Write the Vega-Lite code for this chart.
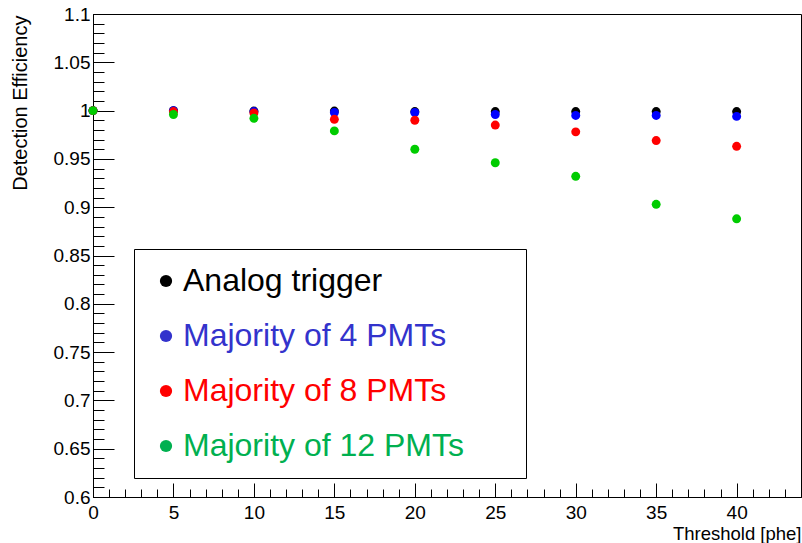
{
  "$schema": "https://vega.github.io/schema/vega-lite/v6.json",
  "autosize": "none",
  "width": 708,
  "height": 483,
  "padding": {"left": 93, "top": 14, "right": 1, "bottom": 46},
  "background": "white",
  "config": {
    "view": {"stroke": "black", "strokeWidth": 1},
    "font": "Liberation Sans",
    "axis": {"grid": false, "domainColor": "black", "tickColor": "black", "labelColor": "black", "titleColor": "black", "labelFont": "Liberation Sans", "titleFont": "Liberation Sans", "titleFontWeight": "normal", "labelOverlap": false, "labelFlush": false}
  },
  "data": {"values": [
    {"t": 0, "eff": 1.0, "s": "Analog trigger"},
    {"t": 5, "eff": 1.0, "s": "Analog trigger"},
    {"t": 10, "eff": 0.9995, "s": "Analog trigger"},
    {"t": 15, "eff": 0.9995, "s": "Analog trigger"},
    {"t": 20, "eff": 0.999, "s": "Analog trigger"},
    {"t": 25, "eff": 0.999, "s": "Analog trigger"},
    {"t": 30, "eff": 0.999, "s": "Analog trigger"},
    {"t": 35, "eff": 0.999, "s": "Analog trigger"},
    {"t": 40, "eff": 0.999, "s": "Analog trigger"},
    {"t": 0, "eff": 1.0, "s": "Majority of 4 PMTs"},
    {"t": 5, "eff": 1.0, "s": "Majority of 4 PMTs"},
    {"t": 10, "eff": 0.999, "s": "Majority of 4 PMTs"},
    {"t": 15, "eff": 0.998, "s": "Majority of 4 PMTs"},
    {"t": 20, "eff": 0.998, "s": "Majority of 4 PMTs"},
    {"t": 25, "eff": 0.996, "s": "Majority of 4 PMTs"},
    {"t": 30, "eff": 0.995, "s": "Majority of 4 PMTs"},
    {"t": 35, "eff": 0.995, "s": "Majority of 4 PMTs"},
    {"t": 40, "eff": 0.994, "s": "Majority of 4 PMTs"},
    {"t": 0, "eff": 1.0, "s": "Majority of 8 PMTs"},
    {"t": 5, "eff": 0.999, "s": "Majority of 8 PMTs"},
    {"t": 10, "eff": 0.9975, "s": "Majority of 8 PMTs"},
    {"t": 15, "eff": 0.991, "s": "Majority of 8 PMTs"},
    {"t": 20, "eff": 0.99, "s": "Majority of 8 PMTs"},
    {"t": 25, "eff": 0.985, "s": "Majority of 8 PMTs"},
    {"t": 30, "eff": 0.978, "s": "Majority of 8 PMTs"},
    {"t": 35, "eff": 0.969, "s": "Majority of 8 PMTs"},
    {"t": 40, "eff": 0.963, "s": "Majority of 8 PMTs"},
    {"t": 0, "eff": 1.0, "s": "Majority of 12 PMTs"},
    {"t": 5, "eff": 0.996, "s": "Majority of 12 PMTs"},
    {"t": 10, "eff": 0.992, "s": "Majority of 12 PMTs"},
    {"t": 15, "eff": 0.979, "s": "Majority of 12 PMTs"},
    {"t": 20, "eff": 0.96, "s": "Majority of 12 PMTs"},
    {"t": 25, "eff": 0.946, "s": "Majority of 12 PMTs"},
    {"t": 30, "eff": 0.932, "s": "Majority of 12 PMTs"},
    {"t": 35, "eff": 0.903, "s": "Majority of 12 PMTs"},
    {"t": 40, "eff": 0.888, "s": "Majority of 12 PMTs"}
  ]},
  "resolve": {"axis": {"x": "independent", "y": "independent"}},
  "layer": [
    {
      "mark": {"type": "circle", "opacity": 0},
      "encoding": {
        "x": {"field": "t", "type": "quantitative", "scale": {"domain": [0, 44], "nice": false, "zero": false},
          "axis": {"orient": "bottom", "values": [0,1,2,3,4,5,6,7,8,9,10,11,12,13,14,15,16,17,18,19,20,21,22,23,24,25,26,27,28,29,30,31,32,33,34,35,36,37,38,39,40,41,42,43,44], "labels": false, "domain": false, "tickSize": -8, "title": null}},
        "y": {"field": "eff", "type": "quantitative", "scale": {"domain": [0.6, 1.1], "nice": false, "zero": false},
          "axis": {"orient": "left", "values": [0.6,0.61,0.62,0.63,0.64,0.65,0.66,0.67,0.68,0.69,0.7,0.71,0.72,0.73,0.74,0.75,0.76,0.77,0.78,0.79,0.8,0.81,0.82,0.83,0.84,0.85,0.86,0.87,0.88,0.89,0.9,0.91,0.92,0.93,0.94,0.95,0.96,0.97,0.98,0.99,1.0,1.01,1.02,1.03,1.04,1.05,1.06,1.07,1.08,1.09,1.1], "labels": false, "domain": false, "tickSize": -11, "title": null}},
        "fill": {"field": "s", "type": "nominal",
          "scale": {"domain": ["Analog trigger", "Majority of 4 PMTs", "Majority of 8 PMTs", "Majority of 12 PMTs"], "range": ["#000000", "#3333cc", "#ff0000", "#00b050"]},
          "legend": {"orient": "none", "legendX": 41, "legendY": 235, "title": null, "padding": 16, "strokeColor": "black", "fillColor": "white", "symbolType": "circle", "symbolSize": 150, "symbolOpacity": 1, "symbolStrokeWidth": 0, "labelFontSize": 32, "labelFont": "Liberation Sans", "labelOffset": 1, "rowPadding": 23, "labelLimit": 700,
            "encode": {
              "labels": {"update": {
                "text": {"signal": "datum.label + '\u2800\u2800'"},
                "fill": {"signal": "datum.value === 'Majority of 4 PMTs' ? '#3333cc' : datum.value === 'Majority of 8 PMTs' ? '#ff0000' : datum.value === 'Majority of 12 PMTs' ? '#00b050' : '#000000'"}}}
            }}}
      }
    },
    {
      "mark": {"type": "circle", "size": 80, "opacity": 1},
      "encoding": {
        "x": {"field": "t", "type": "quantitative",
          "axis": {"orient": "bottom", "values": [0,5,10,15,20,25,30,35,40], "tickSize": -14, "labelPadding": 20, "labelFontSize": 19, "format": "~g", "title": "Threshold [phe]", "titleFontSize": 18.5, "titleX": 708, "titleY": 36, "titleAlign": "right", "titleBaseline": "middle"}},
        "y": {"field": "eff", "type": "quantitative",
          "axis": {"orient": "left", "values": [0.6,0.65,0.7,0.75,0.8,0.85,0.9,0.95,1.0,1.05,1.1], "tickSize": -21, "labelPadding": 24, "labelFontSize": 19, "format": ".2~f", "title": "Detection Efficiency", "titleFontSize": 20, "titleAngle": -90, "titleX": -73, "titleY": 1, "titleAlign": "right", "titleBaseline": "middle"}},
        "color": {"field": "s", "type": "nominal",
          "scale": {"domain": ["Analog trigger", "Majority of 4 PMTs", "Majority of 8 PMTs", "Majority of 12 PMTs"], "range": ["#000000", "#0000ff", "#ff0000", "#00cc00"]},
          "legend": null}
      }
    }
  ]
}
